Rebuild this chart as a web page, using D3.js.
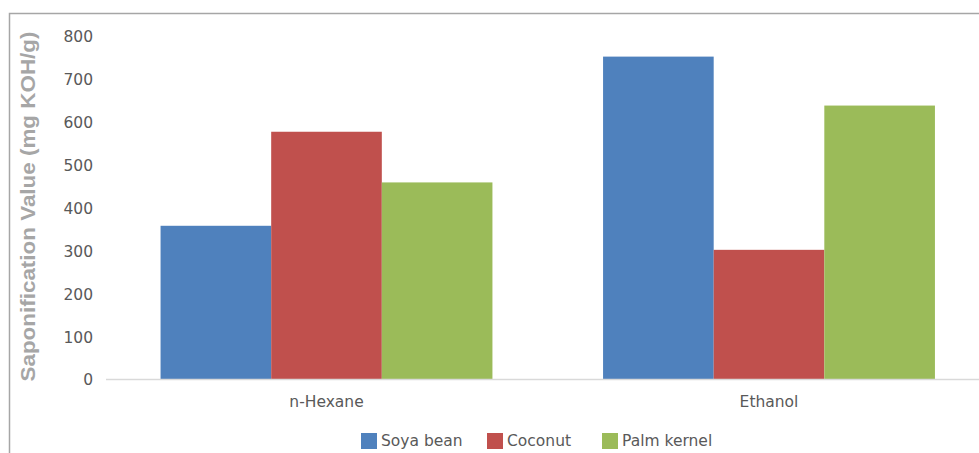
<!DOCTYPE html>
<html>
<head>
<meta charset="utf-8">
<script src="https://cdn.jsdelivr.net/npm/d3@7"></script>
<style>
html,body{margin:0;padding:0;background:#fff;}
svg{display:block;}
</style>
</head>
<body>
<svg id="chart" width="979" height="453"></svg>
<script>
const categories = ["n-Hexane", "Ethanol"];
const seriesNames = ["Soya bean", "Coconut", "Palm kernel"];
const soyaBean = [358, 752];
const coconut = [577, 302];
const palmKernel = [459, 638];
const yTicks = [0, 100, 200, 300, 400, 500, 600, 700, 800];
const colors = ["#4F81BD", "#C0504D", "#9BBB59"];

const seriesValues = [soyaBean, coconut, palmKernel];
const data = categories.map((c, i) => ({
  category: c,
  values: seriesNames.map((s, j) => ({ series: s, value: seriesValues[j][i] }))
}));

const svg = d3.select("#chart");
const font = "'DejaVu Sans', Verdana, sans-serif";
const fs = 15.5;

// border
svg.append("path")
  .attr("d", "M9.5,460 V13.5 H990")
  .attr("fill", "none")
  .attr("stroke", "#a6a6a6")
  .attr("stroke-width", 1.5);

const x0 = d3.scaleBand().domain(categories).range([105.25, 990.25])
  .paddingInner(0.25).paddingOuter(0.125);
const x1 = d3.scaleBand().domain(seriesNames).range([0, x0.bandwidth()]).padding(0);
const y = d3.scaleLinear().domain([0, 800]).range([379.5, 36]);
const color = d3.scaleOrdinal().domain(seriesNames).range(colors);

// y axis labels
const yAxis = d3.axisLeft(y).tickValues(yTicks).tickSize(0).tickPadding(0);
const yg = svg.append("g").attr("transform", "translate(93,0)").call(yAxis);
yg.select(".domain").remove();
yg.selectAll("text")
  .attr("font-family", font).attr("font-size", fs).attr("fill", "#595959")
  .attr("dy", "0.35em");

// bars
const groups = svg.append("g").selectAll("g").data(data).join("g")
  .attr("transform", d => `translate(${x0(d.category)},0)`);
groups.selectAll("rect").data(d => d.values).join("rect")
  .attr("x", d => x1(d.series))
  .attr("width", x1.bandwidth())
  .attr("y", d => y(d.value))
  .attr("height", d => y(0) - y(d.value))
  .attr("fill", d => color(d.series));

// x axis
const xAxis = d3.axisBottom(x0).tickSize(0).tickPadding(0);
const xg = svg.append("g").attr("transform", `translate(0,${y(0)})`).call(xAxis);
xg.select(".domain").remove();
xg.selectAll("text")
  .attr("font-family", font).attr("font-size", fs).attr("fill", "#595959")
  .attr("y", 22.5).attr("dy", "0.35em");
svg.append("line")
  .attr("x1", 106).attr("x2", 979)
  .attr("y1", y(0)).attr("y2", y(0))
  .attr("stroke", "#d9d9d9").attr("stroke-width", 1.5);

// y title
svg.append("text")
  .attr("transform", "translate(28,206.5) rotate(-90)")
  .attr("text-anchor", "middle")
  .attr("dy", "0.35em")
  .attr("font-family", "'Liberation Sans', Arial, sans-serif")
  .attr("font-weight", "bold")
  .attr("font-size", 21)
  .attr("textLength", 350)
  .attr("lengthAdjust", "spacingAndGlyphs")
  .attr("fill", "#a6a6a6")
  .text("Saponification Value (mg KOH/g)");

// legend
const legendX = [361, 487, 602];
const lg = svg.append("g").selectAll("g").data(seriesNames).join("g")
  .attr("transform", (d, i) => `translate(${legendX[i]},441)`);
lg.append("rect").attr("x", 0).attr("y", -8).attr("width", 16).attr("height", 16)
  .attr("fill", d => color(d));
lg.append("text").attr("x", 20).attr("dy", "0.35em")
  .attr("font-family", font).attr("font-size", fs).attr("fill", "#595959")
  .text(d => d);
</script>
</body>
</html>
